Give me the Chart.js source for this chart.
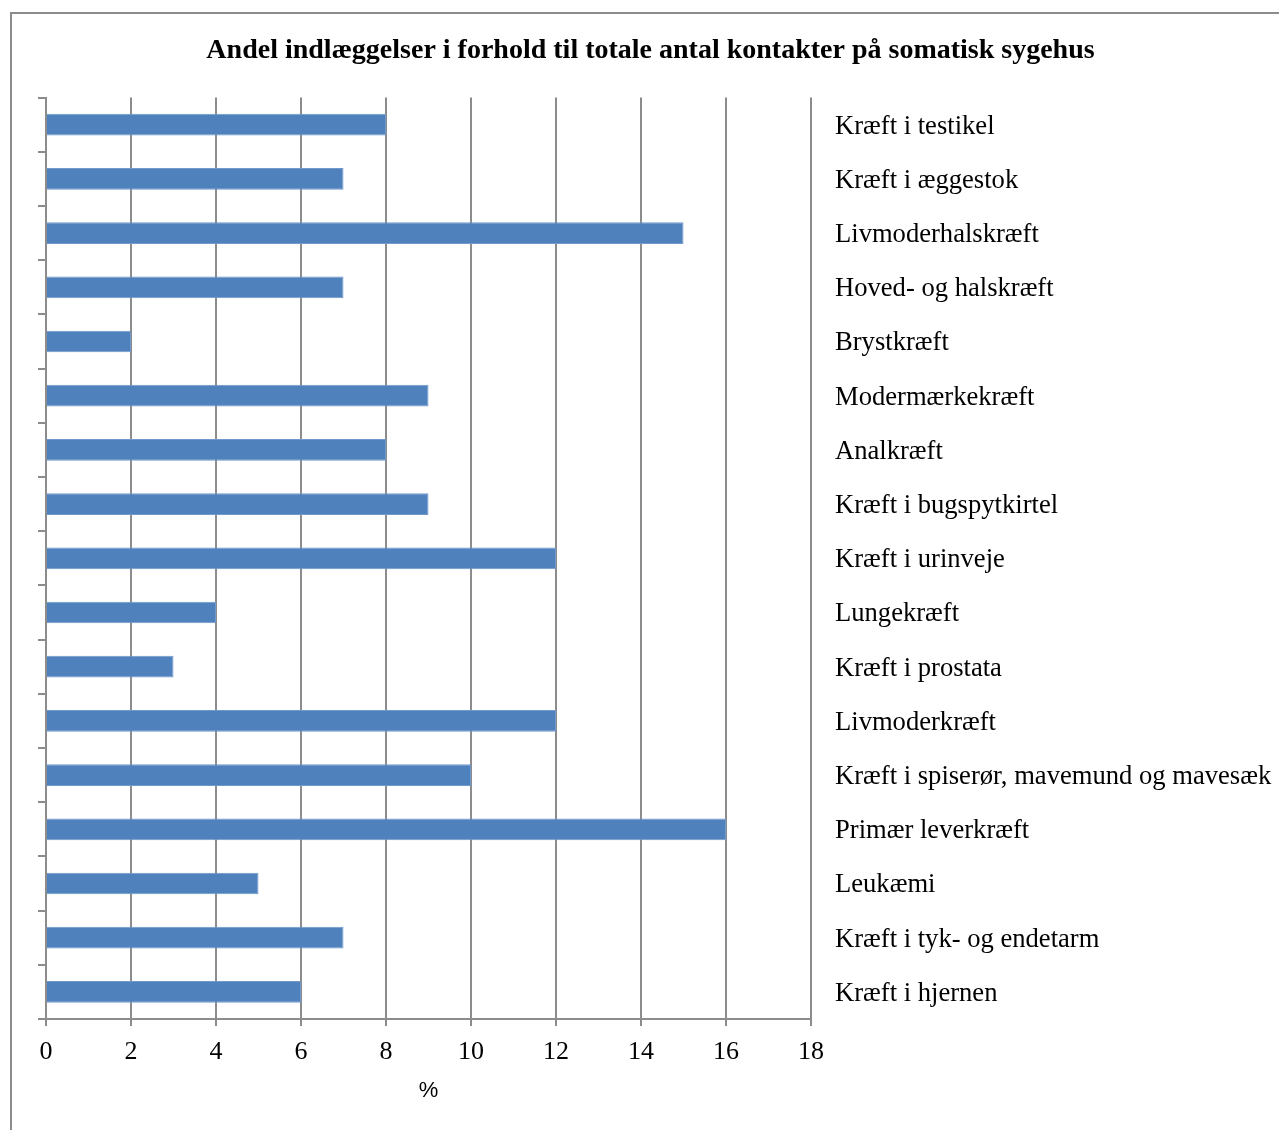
<!DOCTYPE html>
<html>
<head>
<meta charset="utf-8">
<script src="https://cdn.jsdelivr.net/npm/chart.js@4.4.1/dist/chart.umd.min.js"></script>
<style>
  html, body { margin: 0; padding: 0; background: #fff; overflow: hidden; }
  #frame {
    position: absolute; left: 10px; top: 12px;
    width: 1300px; height: 1150px;
    border: 2px solid #8c8c8c;
  }
  #wrap { position: absolute; left: 0; top: 0; width: 1279px; height: 1130px; }
</style>
</head>
<body>
<div id="frame"></div>
<div id="wrap"><canvas id="chart"></canvas></div>
<script>
// categories, top to bottom
const categories = [
    'Kræft i testikel',
    'Kræft i æggestok',
    'Livmoderhalskræft',
    'Hoved- og halskræft',
    'Brystkræft',
    'Modermærkekræft',
    'Analkræft',
    'Kræft i bugspytkirtel',
    'Kræft i urinveje',
    'Lungekræft',
    'Kræft i prostata',
    'Livmoderkræft',
    'Kræft i spiserør, mavemund og mavesæk',
    'Primær leverkræft',
    'Leukæmi',
    'Kræft i tyk- og endetarm',
    'Kræft i hjernen'
];
const shareAdmissions = [8, 7, 15, 7, 2, 9, 8, 9, 12, 4, 3, 12, 10, 16, 5, 7, 6];
const xMin = 0;
const xMax = 18;
const xStep = 2;

const serif = '"Liberation Serif", "Times New Roman", serif';
const gridGray = '#8c8c8c';

const ctx = document.getElementById('chart').getContext('2d');
new Chart(ctx, {
    type: 'bar',
    data: {
        labels: categories,
        datasets: [{
            label: 'Andel',
            data: shareAdmissions,
            backgroundColor: '#4F81BD',
            borderColor: '#7199cc',
            borderWidth: 1,
            barPercentage: 0.4,
            categoryPercentage: 1.0,
            xAxisID: 'x',
            yAxisID: 'y'
        }]
    },
    options: {
        indexAxis: 'y',
        responsive: true,
        maintainAspectRatio: false,
        animation: false,
        layout: { padding: { left: 22, right: 0, top: 0, bottom: 0 } },
        plugins: {
            legend: { display: false },
            tooltip: { enabled: false },
            title: {
                display: true,
                text: 'Andel indlæggelser i forhold til totale antal kontakter på somatisk sygehus',
                color: '#000',
                font: { family: serif, size: 28, weight: 'bold', lineHeight: 1.2 },
                padding: { top: 34, bottom: 30 }
            }
        },
        scales: {
            x: {
                type: 'linear',
                position: 'bottom',
                min: xMin,
                max: xMax,
                ticks: {
                    stepSize: xStep,
                    color: '#000',
                    font: { family: serif, size: 26 },
                    padding: 11
                },
                grid: {
                    color: gridGray,
                    lineWidth: 2,
                    tickLength: 7
                },
                border: { display: true, color: gridGray, width: 2 },
                title: {
                    display: true,
                    text: '%',
                    color: '#000',
                    font: { family: '"Liberation Sans", Arial, sans-serif', size: 22 },
                    padding: { top: 8, bottom: 26 }
                },
                afterFit: function (scale) { scale.height = 111; }
            },
            y: {
                type: 'category',
                position: 'left',
                offset: true,
                ticks: { display: false },
                grid: {
                    offset: true,
                    drawOnChartArea: false,
                    drawTicks: true,
                    tickLength: 8,
                    color: gridGray,
                    lineWidth: 2
                },
                border: { display: true, color: gridGray, width: 2 },
                afterFit: function (scale) { scale.width = 24; }
            },
            y2: {
                type: 'category',
                position: 'right',
                offset: true,
                labels: categories,
                ticks: {
                    color: '#000',
                    font: { family: serif, size: 26.6 },
                    padding: 24,
                    labelOffset: 2
                },
                grid: { display: false, drawTicks: false },
                border: { display: false },
                afterFit: function (scale) { scale.width = 468; }
            }
        }
    }
});
</script>
</body>
</html>
